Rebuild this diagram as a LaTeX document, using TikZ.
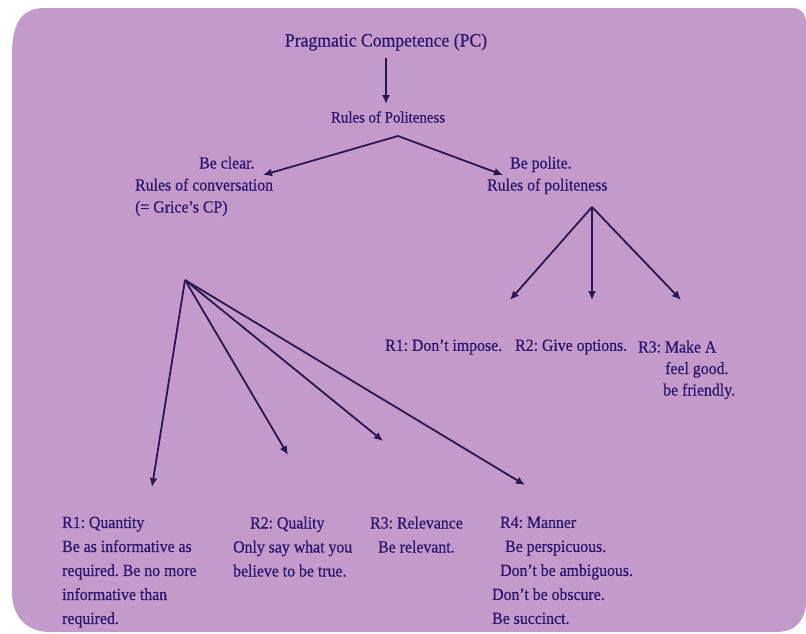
\documentclass[tikz,border=0pt]{standalone}
\usepackage{fontspec}
\setmainfont{Liberation Serif}[FakeStretch=0.93,FakeBold=0.5]
\usetikzlibrary{arrows.meta}
\definecolor{bgpurple}{RGB}{194,155,202}
\definecolor{ink}{RGB}{42,24,112}
\definecolor{lineink}{RGB}{40,24,82}
\frenchspacing
\begin{document}
\begin{tikzpicture}[x=1pt,y=-1pt,
  txt/.style={text=ink, inner sep=0pt, font=\frenchspacing\fontsize{17}{24}\selectfont},
  arr/.style={draw=lineink, line width=1.8pt, -{Latex[length=9pt,width=8pt]}},
]
\useasboundingbox (0,0) rectangle (806,633);
\fill[white] (0,0) rectangle (806,633);
\fill[bgpurple] (45,8) -- (792,8) .. controls (801,8) and (806,14) .. (806,24)
  -- (806,600) .. controls (806,620) and (796,632) .. (776,632)
  -- (50,632) .. controls (26,632) and (12,616) .. (12,592)
  -- (12,55) .. controls (12,25) and (20,8) .. (45,8) -- cycle;

% top
\node[txt, font=\frenchspacing\fontsize{19}{22}\selectfont] (pc) at (386,42) {Pragmatic Competence (PC)};
\node[txt, font=\frenchspacing\fontsize{16}{20}\selectfont] (rop) at (388,117) {Rules of Politeness};
\coordinate (pcfoot) at (386,58);
\coordinate (ropin) at (386,104);
\draw[arr] (pcfoot) -- (ropin);

% second level
\node[txt, align=left, anchor=north west, font=\frenchspacing\fontsize{17}{22}\selectfont] (clear) at (135,156.5)
  {\hspace*{64pt}Be clear.\\Rules of conversation\\(= Grice's CP)};
\node[txt, align=left, anchor=north west, font=\frenchspacing\fontsize{17}{22}\selectfont] (polite) at (487,156.5)
  {\hspace*{23pt}Be polite.\\Rules of politeness};
\coordinate (apex1) at (398,136);
\coordinate (tipclear) at (263,175);
\coordinate (tippolite) at (503,175);
\draw[arr] (apex1) -- (tipclear);
\draw[arr] (apex1) -- (tippolite);

% politeness rules
\node[txt, anchor=west] (imp) at (385,347) {R1: Don't impose.};
\node[txt, anchor=west] (opt) at (515,347) {R2: Give options.};
\node[txt, align=left, anchor=north west, font=\frenchspacing\fontsize{17}{21.5}\selectfont] (good) at (638,340.5)
  {R3: Make A\\\hspace*{27pt}feel good.\\\hspace*{25pt}be friendly.};
\coordinate (apex2) at (592,207);
\coordinate (tipimp) at (510,300);
\coordinate (tipopt) at (592,300);
\coordinate (tipgood) at (681,300);
\draw[arr] (apex2) -- (tipimp);
\draw[arr] (apex2) -- (tipopt);
\draw[arr] (apex2) -- (tipgood);

% conversation maxims
\node[txt, align=left, anchor=north west] (quan) at (62,516.5)
  {R1: Quantity\\Be as informative as\\required. Be no more\\informative than\\required.};
\node[txt, align=left, anchor=north west] (qual) at (233,516.5)
  {\hspace*{17pt}R2: Quality\\Only say what you\\believe to be true.};
\node[txt, align=left, anchor=north west] (rel) at (370,516.5)
  {R3: Relevance\\\hspace*{8pt}Be relevant.};
\node[txt, align=left, anchor=north west] (man) at (492,516.5)
  {\hspace*{8pt}R4: Manner\\\hspace*{13pt}Be perspicuous.\\\hspace*{8pt}Don't be ambiguous.\\Don't be obscure.\\Be succinct.};
\coordinate (apex3) at (185,280);
\coordinate (tipquan) at (152,487);
\coordinate (tipqual) at (288,455);
\coordinate (tiprel) at (383,441);
\coordinate (tipman) at (525,485);
\draw[arr] (apex3) -- (tipquan);
\draw[arr] (apex3) -- (tipqual);
\draw[arr] (apex3) -- (tiprel);
\draw[arr] (apex3) -- (tipman);
\end{tikzpicture}
\end{document}
